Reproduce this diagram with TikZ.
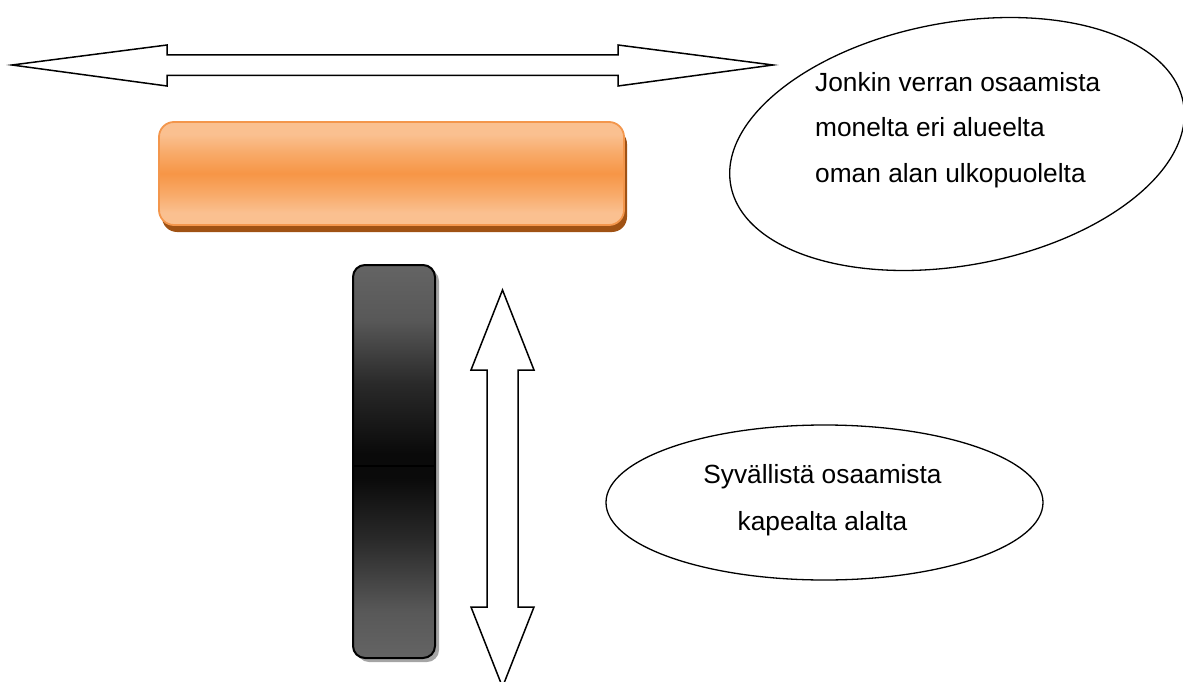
\documentclass[tikz,border=0pt]{standalone}
\usepackage{fontspec}
\setmainfont{Liberation Sans}
\usetikzlibrary{shapes.geometric,shadows}

% palette
\definecolor{orlight}{RGB}{250,192,144}
\definecolor{ormid}{RGB}{248,170,105}
\definecolor{ordeep}{RGB}{247,150,70}
\definecolor{oredge}{RGB}{243,150,76}
\definecolor{orshadow}{RGB}{160,82,20}
\definecolor{gtop}{RGB}{100,100,100}
\definecolor{gupper}{RGB}{88,88,88}
\definecolor{glower}{RGB}{42,42,42}
\definecolor{gcore}{RGB}{10,10,10}
\definecolor{gshadow}{RGB}{165,165,165}

% glossy bands: 25bp = bottom edge, 75bp = top edge
\pgfdeclareverticalshading{orangeband}{100bp}{%
  color(0bp)=(orlight); color(25bp)=(orlight); color(31bp)=(orlight);
  color(40bp)=(ormid); color(50bp)=(ordeep); color(60bp)=(ormid);
  color(69bp)=(orlight); color(75bp)=(orlight); color(100bp)=(orlight)}
\pgfdeclareverticalshading{darkband}{100bp}{%
  color(0bp)=(gtop); color(25bp)=(gtop); color(31bp)=(gupper);
  color(40bp)=(glower); color(48bp)=(gcore); color(49.5bp)=(gcore);
  color(51bp)=(gcore); color(60bp)=(glower); color(68bp)=(gupper);
  color(75bp)=(gtop); color(100bp)=(gtop)}

\tikzset{
  outline/.style={draw=black, line width=1.5pt, fill=white},
  bubble/.style={draw=black, line width=1.3pt, ellipse, inner sep=0pt},
  label/.style={font=\fontsize{26.3}{30}\selectfont, inner sep=0pt, text=black},
  widebar/.style={rectangle, rounded corners=15pt, draw=oredge, line width=1.8pt,
    shading=orangeband, inner sep=0pt,
    drop shadow={shadow xshift=3pt, shadow yshift=-7pt, fill=orshadow, opacity=1}},
  deepbar/.style={rectangle, rounded corners=12pt, draw=black, line width=2pt,
    shading=darkband, inner sep=0pt,
    drop shadow={shadow xshift=4pt, shadow yshift=-4pt, fill=gshadow, opacity=1}},
}

\begin{document}
\begin{tikzpicture}[x=1pt,y=1pt]
\useasboundingbox (0,0) rectangle (1183,-682);
\clip (0,0) rectangle (1183,-682);

% horizontal two-headed arrow
\draw[outline] (12,-65) -- (167,-45) -- (167,-55) -- (618,-55) -- (618,-45)
  -- (773,-65) -- (618,-86) -- (618,-75.5) -- (167,-75.5) -- (167,-86) -- cycle;

% broad orange bar
\node[widebar, minimum width=465pt, minimum height=103pt] (broad) at (391.5,-173.5) {};

% narrow dark bar with its dividing line
\node[deepbar, minimum width=82pt, minimum height=393pt] (deep) at (394,-461.5) {};
\draw[black, line width=1.4pt] ([yshift=-4.5pt]deep.west) -- ([yshift=-4.5pt]deep.east);

% vertical two-headed arrow
\draw[outline] (502.5,-290) -- (534,-370) -- (518,-370) -- (518,-607) -- (534,-607)
  -- (502.5,-687) -- (471,-607) -- (487,-607) -- (487,-370) -- (471,-370) -- cycle;

% upper speech ellipse
\node[bubble, minimum width=460pt, minimum height=243pt, rotate=10.35] (wide) at (957,-144) {};
\node[label, anchor=base west] (wide1) at (815,-92) {Jonkin verran osaamista};
\node[label, anchor=base west] (wide2) at (815,-137) {monelta eri alueelta};
\node[label, anchor=base west] (wide3) at (815,-182) {oman alan ulkopuolelta};

% lower speech ellipse
\node[bubble, minimum width=437pt, minimum height=155pt] (narrow) at (824.5,-502.5) {};
\node[label, anchor=base] (narrow1) at (822.5,-483) {Syvällistä osaamista};
\node[label, anchor=base] (narrow2) at (822.5,-530) {kapealta alalta};
\end{tikzpicture}
\end{document}
